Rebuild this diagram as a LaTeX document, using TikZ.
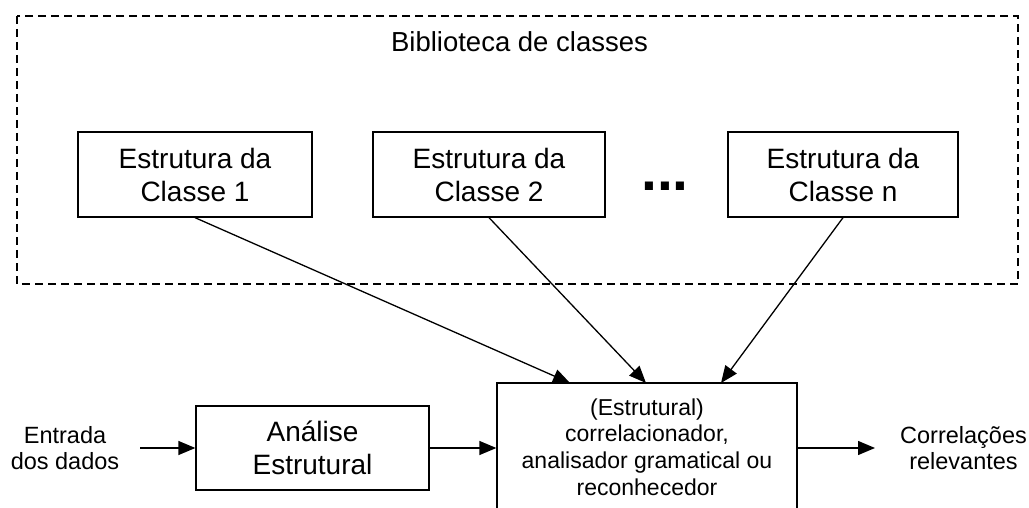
\documentclass[tikz,border=0pt]{standalone}
\usepackage{fontspec}
\setmainfont{Liberation Sans}
\usetikzlibrary{arrows.meta}

\begin{document}
\begin{tikzpicture}[x=1pt, y=-1pt, line width=1.3pt,
    box/.style={draw, inner sep=0pt, align=center, font=\fontsize{28}{33}\selectfont},
    label/.style={align=center, font=\fontsize{23.5}{26}\selectfont},
    arrow/.style={-{Triangle[length=17pt,width=14pt]}}]
    % Fix the page size
    \useasboundingbox (0,0) rectangle (1029,508);

    % Define the library frame
    \draw[line width=1.4pt, dash pattern=on 8pt off 5pt] (17,16) rectangle (1018,284);
    \node[font=\fontsize{27.5}{33}\selectfont] (title) at (519.5,42) {Biblioteca de classes};

    % Class structures
    \node[box, minimum width=234pt, minimum height=85pt] (class1) at (195,174.5) {Estrutura da\\Classe 1};
    \node[box, minimum width=232pt, minimum height=85pt] (class2) at (489,174.5) {Estrutura da\\Classe 2};
    \node[font=\fontsize{57}{57}\selectfont\bfseries, inner sep=0pt, anchor=base] (dots) at (665,190) {...};
    \node[box, minimum width=230pt, minimum height=85pt] (classn) at (843,174.5) {Estrutura da\\Classe n};

    % Processing chain
    \node[label] (input) at (65,448) {Entrada\\dos dados};
    \node[box, minimum width=233pt, minimum height=84pt] (analysis) at (312.5,448) {Análise\\Estrutural};
    \node[draw, inner sep=0pt, align=center, font=\fontsize{23}{26.7}\selectfont,
          minimum width=300pt, minimum height=128pt] (corr) at (647,447)
          {(Estrutural)\\correlacionador,\\analisador gramatical ou\\reconhecedor};
    \node[label] (output) at (963.5,448) {Correlações\\relevantes};

    % Arrow ends on top of the correlator
    \coordinate (in1) at (570,383);
    \coordinate (in2) at (646,383);
    \coordinate (inn) at (721,383);

    % Connectors
    \draw[arrow] (class1.south) -- (in1);
    \draw[arrow] (class2.south) -- (in2);
    \draw[arrow] (classn.south) -- (inn);
    \draw[arrow] (140,448) -- (analysis.west);
    \draw[arrow] (analysis.east) -- (corr.west |- analysis.east);
    \draw[arrow] (corr.east |- analysis.east) -- (875,448);
\end{tikzpicture}
\end{document}
